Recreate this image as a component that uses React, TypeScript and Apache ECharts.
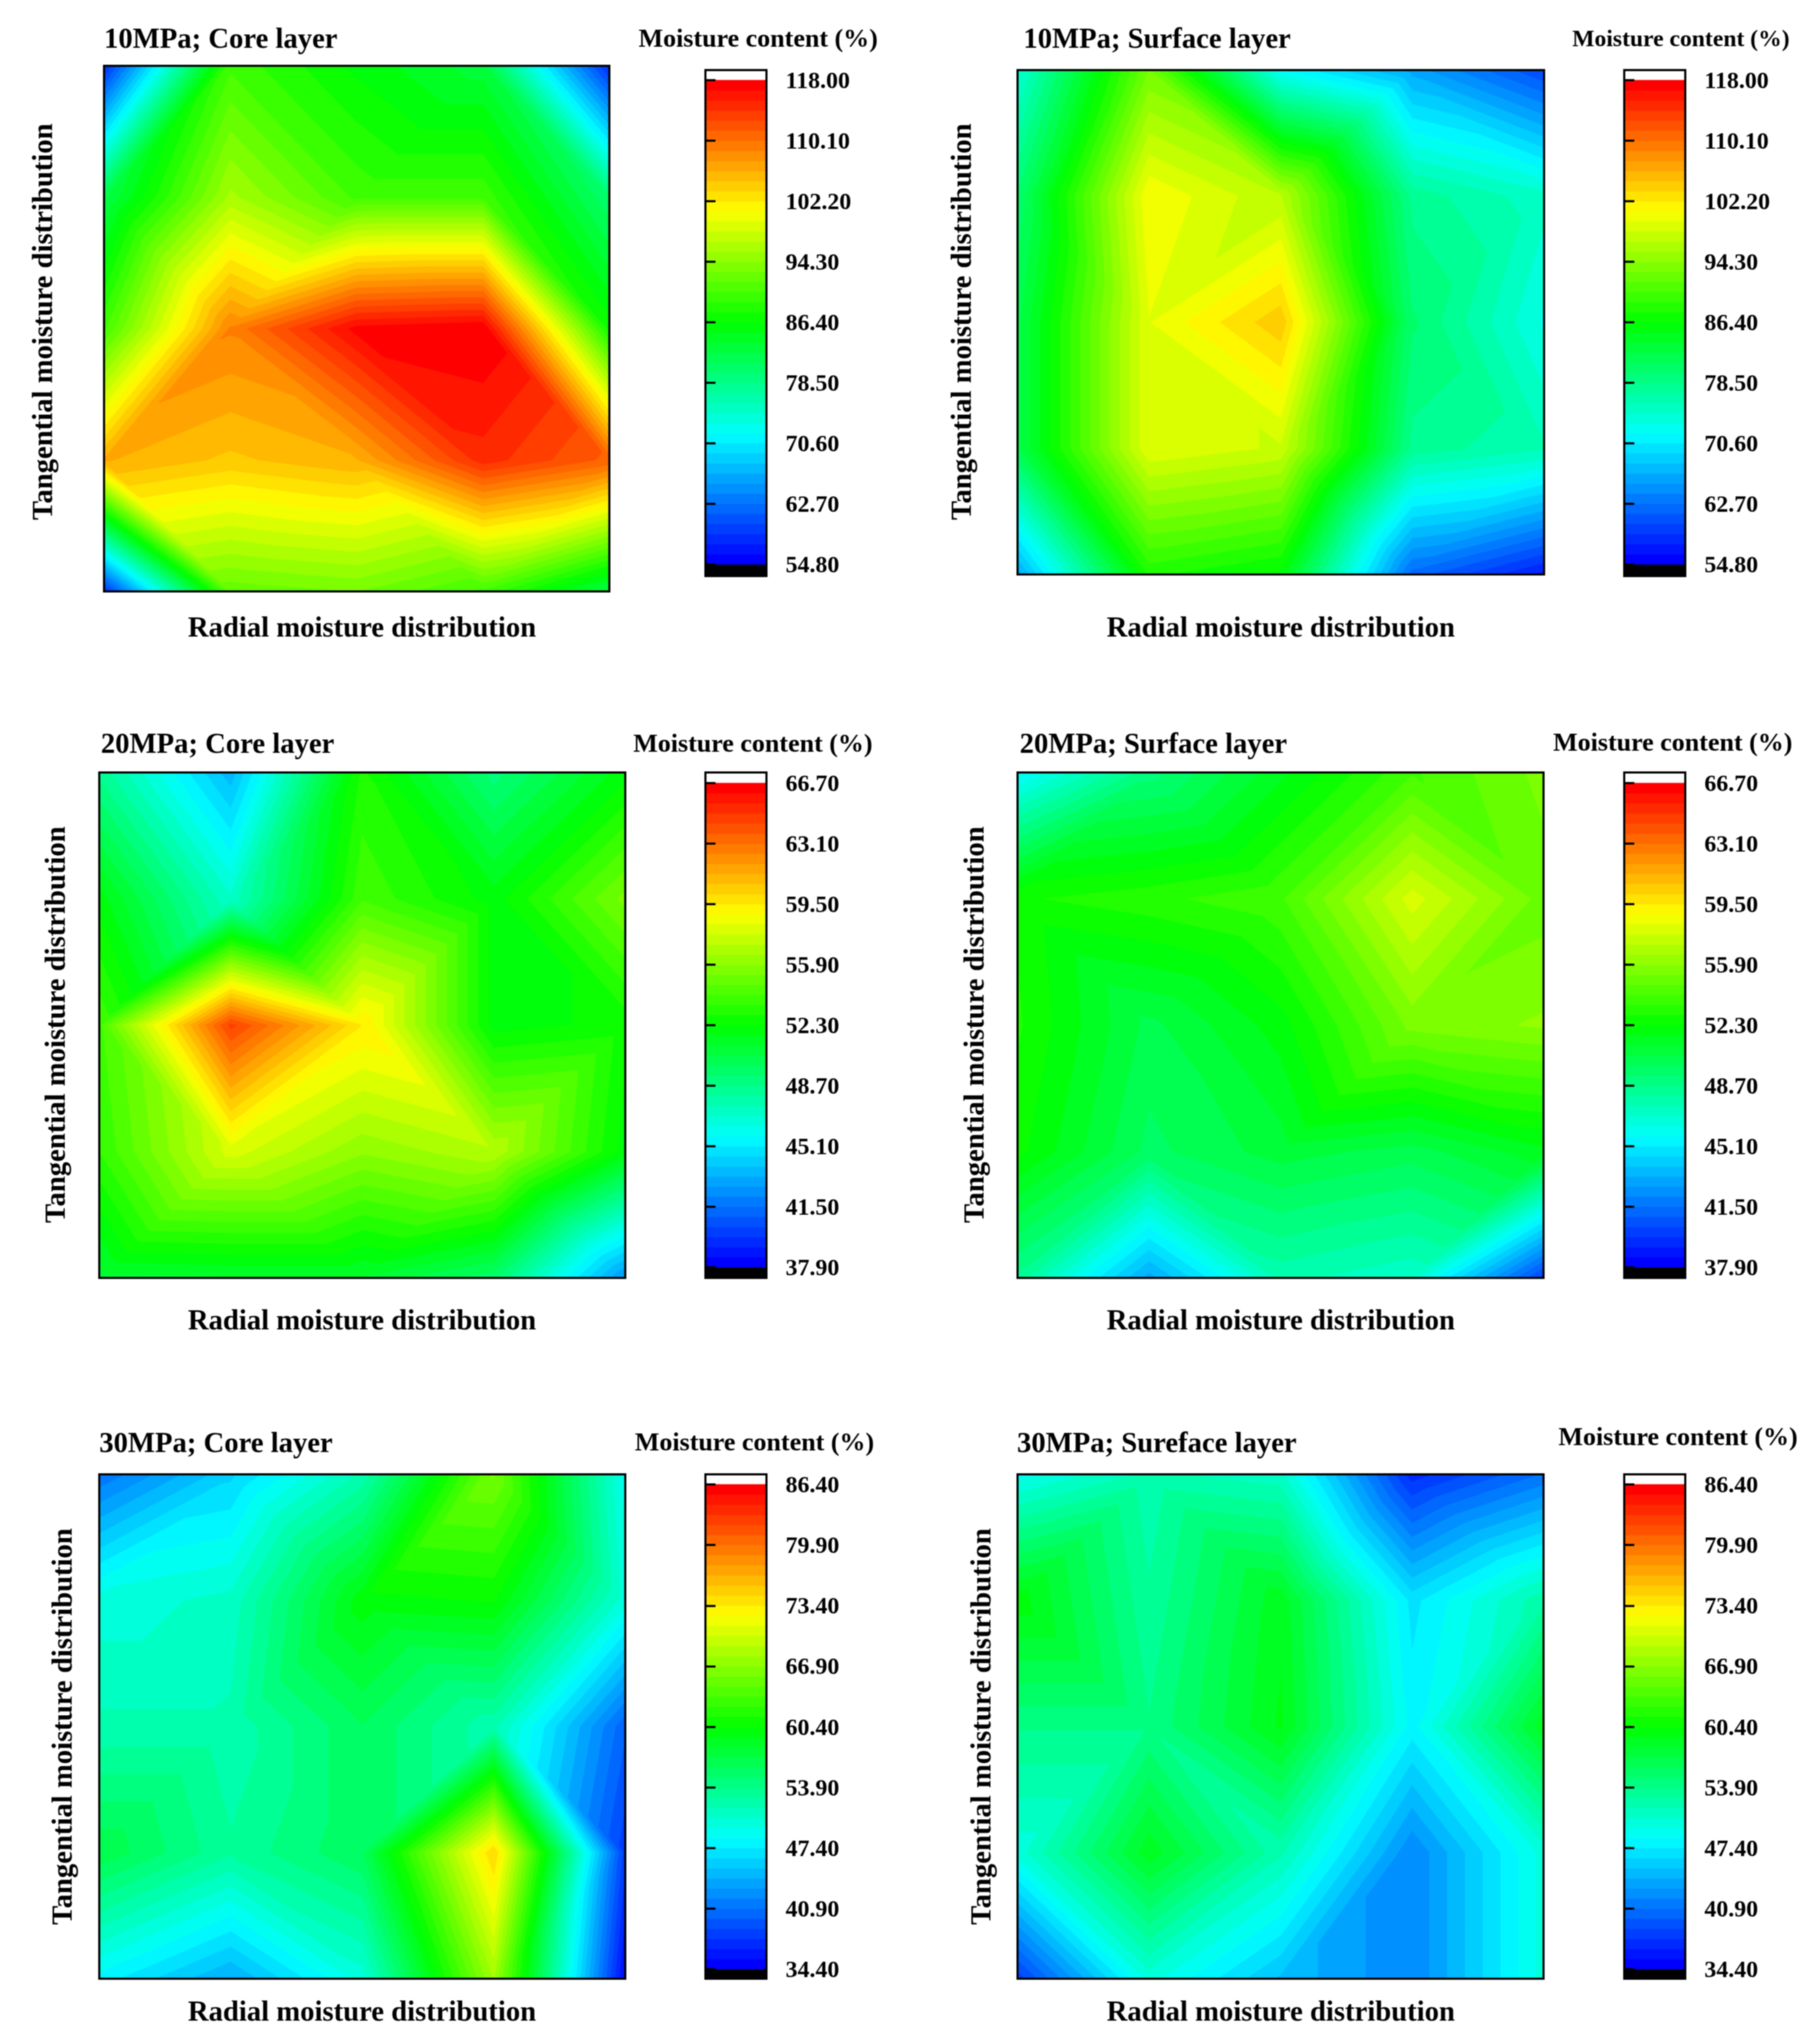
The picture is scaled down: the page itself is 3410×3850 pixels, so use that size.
import React, { useEffect, useRef } from "react";
import * as echarts from "echarts";

const core10 = [
  [58, 90, 86, 83, 58],
  [82, 96, 90, 90, 80],
  [90, 109, 117.2, 118, 87],
  [106.3, 104.5, 106, 114.8, 111],
  [58, 92, 93, 90, 82],
];
const surface10 = [
  [74, 93, 72, 66, 60],
  [80, 100.8, 97, 78, 75],
  [82, 99.5, 104.5, 80, 73],
  [82, 99.5, 98, 78, 76],
  [66, 88, 86, 62, 57],
];
const core20 = [
  [48.5, 43.5, 53, 49, 52],
  [52, 47, 54, 52, 55.5],
  [54, 64.5, 59.5, 52, 52.5],
  [53.5, 58, 56, 57, 52],
  [50.8, 51, 51, 49.5, 42.5],
];
const surface20 = [
  [45.5, 49, 51.5, 54, 55.5],
  [52.8, 53.3, 54, 58, 55],
  [53, 50.3, 52, 55.5, 56],
  [52.5, 49.7, 50.8, 50.2, 51.5],
  [48.5, 43, 47.7, 47, 40],
];
const core30 = [
  [41, 46, 52, 66, 49],
  [50, 51, 60, 60.5, 50],
  [52, 52, 56, 52, 40],
  [57, 53, 56, 74.5, 38],
  [48, 44, 50, 68, 35],
];
const surface30 = [
  [49, 52, 51, 37, 41],
  [60, 53, 59, 47, 52.5],
  [54, 54, 59.5, 48, 59],
  [50, 59, 52, 42, 50],
  [38, 50, 45, 42, 50],
];

const ticks10 = [54.8, 62.7, 70.6, 78.5, 86.4, 94.3, 102.2, 110.1, 118.0];
const ticks20 = [37.9, 41.5, 45.1, 48.7, 52.3, 55.9, 59.5, 63.1, 66.7];
const ticks30 = [34.4, 40.9, 47.4, 53.9, 60.4, 66.9, 73.4, 79.9, 86.4];

const titles = [
  "10MPa; Core layer",
  "10MPa; Surface layer",
  "20MPa; Core layer",
  "20MPa; Surface layer",
  "30MPa; Core layer",
  "30MPa; Sureface layer",
];
const legendTitle = "Moisture content (%)";
const xLabel = "Radial moisture distribution";
const yLabel = "Tangential moisture distribution";

const BANDS = 48;
const SERIF = '"Liberation Serif", "Times New Roman", serif';

// hub: parity of the grid nodes that the triangle diagonals meet at; flip: cells [row, col] with the other diagonal
const panels = [
  { z: core10, hub: 1, flip: [[1, 3], [2, 2]], t: ticks10, box: [196, 124, 952, 990], bar: [1329, 132, 953], tickTop: 151, tickBot: 1063, title: [196, 72], leg: [1203, 71, 49], yl: [80, 606], xl: [682, 1181] },
  { z: surface10, hub: 1, flip: [], t: ticks10, box: [1917, 132, 992, 950], bar: [3060, 132, 953], tickTop: 151, tickBot: 1063, title: [1928, 72], leg: [2962, 72, 44.5], yl: [1811, 606], xl: [2413, 1181] },
  { z: core20, hub: 0, flip: [], t: ticks20, box: [187, 1455, 991, 952], bar: [1329, 1455, 952], tickTop: 1475, tickBot: 2387, title: [190, 1400], leg: [1193, 1399, 49], yl: [104, 1930], xl: [682, 2486] },
  { z: surface20, hub: 1, flip: [[3, 0], [3, 1]], t: ticks20, box: [1917, 1455, 991, 952], bar: [3060, 1455, 952], tickTop: 1475, tickBot: 2387, title: [1921, 1400], leg: [2926, 1397, 49], yl: [1835, 1930], xl: [2413, 2486] },
  { z: core30, hub: 1, flip: [[3, 0], [3, 1]], t: ticks30, box: [187, 2777, 991, 950], bar: [1329, 2777, 950], tickTop: 2796, tickBot: 3709, title: [187, 2717], leg: [1196, 2715, 49], yl: [117, 3252], xl: [682, 3788] },
  { z: surface30, hub: 1, flip: [[3, 2]], t: ticks30, box: [1917, 2777, 991, 950], bar: [3060, 2777, 950], tickTop: 2796, tickBot: 3709, title: [1916, 2717], leg: [2936, 2705, 49], yl: [1848, 3252], xl: [2413, 3788] },
];

const stops: [number, number[]][] = [
  [0, [0, 0, 255]],
  [0.264, [0, 255, 255]],
  [0.5, [0, 255, 0]],
  [0.736, [255, 255, 0]],
  [1, [255, 0, 0]],
];
function rainbow(f: number) {
  for (let i = 1; i < stops.length; i++) {
    if (f <= stops[i][0]) {
      const a = stops[i - 1];
      const b = stops[i];
      const u = (f - a[0]) / (b[0] - a[0]);
      const c = a[1].map((v, j) => Math.round(v + (b[1][j] - v) * u));
      return `rgb(${c[0]},${c[1]},${c[2]})`;
    }
  }
  return "rgb(255,0,0)";
}

type P3 = number[];
function clipBelow(poly: P3[], level: number, keepAbove: boolean) {
  const out: P3[] = [];
  for (let i = 0; i < poly.length; i++) {
    const p = poly[i];
    const q = poly[(i + 1) % poly.length];
    const pIn = keepAbove ? p[2] >= level : p[2] <= level;
    const qIn = keepAbove ? q[2] >= level : q[2] <= level;
    if (pIn) out.push(p);
    if (pIn !== qIn) {
      const u = (level - p[2]) / (q[2] - p[2]);
      out.push([p[0] + (q[0] - p[0]) * u, p[1] + (q[1] - p[1]) * u, level]);
    }
  }
  return out;
}

function triangles(z: number[][], hub: number, flip: number[][]) {
  const tris: number[][] = [];
  const pt = (r: number, c: number) => [c, r, z[r][c]];
  for (let r = 0; r < z.length - 1; r++) {
    for (let c = 0; c < z[r].length - 1; c++) {
      const a = pt(r, c);
      const b = pt(r, c + 1);
      const d = pt(r + 1, c);
      const e = pt(r + 1, c + 1);
      const flipped = flip.some((f) => f[0] === r && f[1] === c);
      if (((r + c) % 2 === hub) !== flipped) {
        tris.push([...a, ...b, ...e], [...a, ...e, ...d]);
      } else {
        tris.push([...a, ...b, ...d], [...b, ...e, ...d]);
      }
    }
  }
  return tris;
}

function buildOption() {
  const grid: any[] = [];
  const xAxis: any[] = [];
  const yAxis: any[] = [];
  const series: any[] = [];
  const graphic: any[] = [];

  const frame = (idx: number, width: number) => ({
    type: "custom",
    xAxisIndex: idx,
    yAxisIndex: idx,
    z: 6,
    silent: true,
    data: [[0, 0]],
    renderItem: (params: any) => {
      const s = params.coordSys;
      return {
        type: "rect",
        shape: { x: s.x, y: s.y, width: s.width, height: s.height },
        style: { fill: "none", stroke: "#000", lineWidth: width },
      };
    },
  });

  panels.forEach((p) => {
    const lo = p.t[0];
    const hi = p.t[p.t.length - 1];
    const w = (hi - lo) / BANDS;

    // contour plot
    let idx = grid.length;
    grid.push({ left: p.box[0], top: p.box[1], width: p.box[2], height: p.box[3], containLabel: false });
    xAxis.push({ gridIndex: idx, type: "value", min: 0, max: 4, show: false });
    yAxis.push({ gridIndex: idx, type: "value", min: 0, max: 4, inverse: true, show: false });
    series.push({
      type: "custom",
      xAxisIndex: idx,
      yAxisIndex: idx,
      silent: true,
      data: triangles(p.z, p.hub, p.flip),
      renderItem: (_: any, api: any) => {
        const tri: P3[] = [
          [api.value(0), api.value(1), api.value(2)],
          [api.value(3), api.value(4), api.value(5)],
          [api.value(6), api.value(7), api.value(8)],
        ];
        const children: any[] = [];
        const vals = tri.map((q) => q[2]);
        const k0 = Math.max(0, Math.floor((Math.min(...vals) - lo) / w));
        const k1 = Math.min(BANDS - 1, Math.floor((Math.max(...vals) - lo) / w));
        for (let k = k0; k <= k1; k++) {
          let poly = clipBelow(tri, lo + k * w, true);
          if (poly.length) poly = clipBelow(poly, lo + (k + 1) * w, false);
          if (poly.length < 3) continue;
          const col = rainbow(k / (BANDS - 1));
          children.push({
            type: "polygon",
            shape: { points: poly.map((q) => api.coord([q[0], q[1]])) },
            style: { fill: col, stroke: col, lineWidth: 1.2 },
          });
        }
        return { type: "group", children };
      },
    });
    series.push(frame(idx, 4));

    // colour bar
    idx = grid.length;
    const perPx = (hi - lo) / (p.tickBot - p.tickTop);
    const axMax = hi + (p.tickTop - p.bar[1]) * perPx;
    const axMin = lo - (p.bar[1] + p.bar[2] - p.tickBot) * perPx;
    grid.push({ left: p.bar[0], top: p.bar[1], width: 115, height: p.bar[2], containLabel: false });
    xAxis.push({ gridIndex: idx, type: "value", min: 0, max: 1, show: false });
    yAxis.push({
      gridIndex: idx,
      type: "value",
      min: axMin,
      max: axMax,
      position: "right",
      z: 7,
      axisLine: { show: false },
      splitLine: { show: false },
      axisTick: { show: true, inside: false, length: 19, lineStyle: { color: "#000", width: 4 }, customValues: p.t },
      axisLabel: {
        show: true,
        margin: 36,
        color: "#000",
        fontFamily: SERIF,
        fontWeight: "bold",
        fontSize: 45,
        customValues: p.t,
        formatter: (v: number) => v.toFixed(2),
      },
    });
    const bands: any[] = [[axMin, lo, "#000000"], [hi, axMax, "#ffffff"]];
    for (let k = 0; k < BANDS; k++) {
      bands.push([lo + k * w, lo + (k + 1) * w, rainbow(k / (BANDS - 1))]);
    }
    series.push({
      type: "custom",
      xAxisIndex: idx,
      yAxisIndex: idx,
      silent: true,
      dimensions: ["a", "b", { name: "c", type: "ordinal" }],
      encode: { y: [0, 1] },
      data: bands,
      renderItem: (params: any, api: any) => {
        const s = params.coordSys;
        const top = api.coord([0, api.value(1)])[1];
        const bot = api.coord([0, api.value(0)])[1];
        const col = bands[params.dataIndex][2];
        return {
          type: "rect",
          shape: { x: s.x, y: top, width: s.width, height: bot - top },
          style: { fill: col, stroke: col, lineWidth: 0.8 },
        };
      },
    });
    series.push(frame(idx, 4));

    // texts
    const label = (text: string, x: number, y: number, size: number, align: string, rotation = 0) => ({
      type: "text",
      x,
      y,
      rotation,
      z: 10,
      style: {
        text,
        fill: "#000",
        font: `bold ${size}px ${SERIF}`,
        textAlign: align,
        textVerticalAlign: "middle",
      },
    });
    graphic.push(label(titles[panels.indexOf(p)], p.title[0], p.title[1], 54, "left"));
    graphic.push(label(legendTitle, p.leg[0], p.leg[1], p.leg[2], "left"));
    graphic.push(label(xLabel, p.xl[0], p.xl[1], 54, "center"));
    graphic.push(label(yLabel, p.yl[0], p.yl[1], 54, "center", Math.PI / 2));
  });

  return {
    animation: false,
    backgroundColor: "#fff",
    tooltip: { show: false },
    grid,
    xAxis,
    yAxis,
    series,
    graphic,
  };
}

export default function App() {
  const ref = useRef<HTMLDivElement>(null);
  useEffect(() => {
    document.body.style.margin = "0";
    const chart = echarts.init(ref.current!, null, { renderer: "svg" });
    chart.setOption(buildOption() as any);
    return () => chart.dispose();
  }, []);
  return <div ref={ref} style={{ width: 3410, height: 3850, filter: "blur(1px)" }} />;
}
